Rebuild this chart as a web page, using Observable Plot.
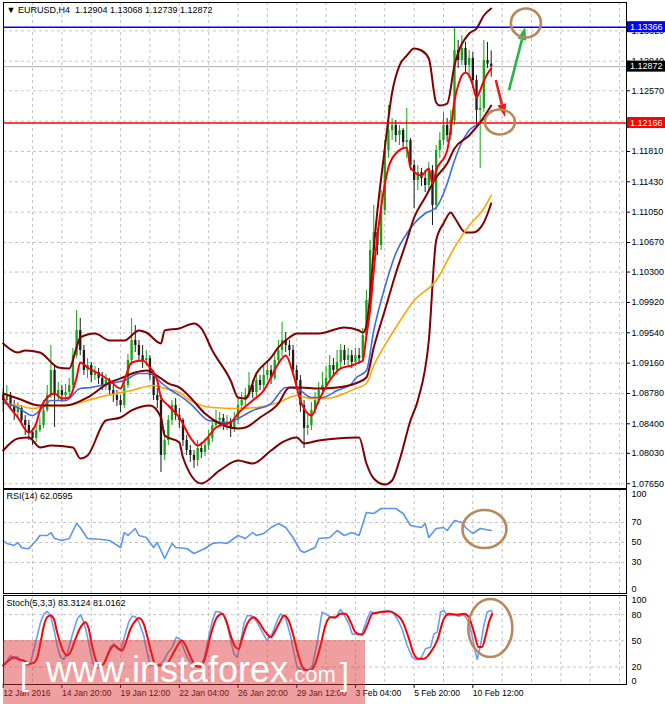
<!DOCTYPE html>
<html>
<head>
<meta charset="utf-8">
<script src="https://cdn.jsdelivr.net/npm/d3@7"></script>
<script src="https://cdn.jsdelivr.net/npm/@observablehq/plot@0.6"></script>
<style>
  html,body{margin:0;padding:0;background:#fff;}
  #chart{position:relative;width:665px;height:704px;overflow:hidden;background:#fff;}
  #chart > svg{position:absolute;left:0;display:block;}
</style>
</head>
<body>
<div id="chart"></div>
<script>
// ---------------- DATA ----------------
const symbolHeader = "▼ EURUSD,H4  1.12904 1.13068 1.12739 1.12872";
const rsiHeader = "RSI(14) 62.0595";
const stochHeader = "Stoch(5,3,3) 83.3124 81.0162";

const firstOpen = 1.08754;
const closes = [
 1.08692,1.08754,1.08629,1.08542,1.08592,1.08442,1.08379,1.08291,1.08216,1.08316,
 1.08379,1.08567,1.08754,1.09068,1.08754,1.08817,1.08754,1.08792,1.08880,1.09254,
 1.09568,1.09318,1.09068,1.09130,1.09005,1.09043,1.08968,1.08880,1.08942,1.08817,
 1.08754,1.08692,1.08629,1.08880,1.09193,1.09443,1.09381,1.09254,1.09193,1.09216,
 1.09005,1.08754,1.08692,1.08004,1.08191,1.08442,1.08629,1.08504,1.08442,1.08191,
 1.08066,1.08004,1.07941,1.08091,1.08041,1.08129,1.08216,1.08379,1.08442,1.08467,
 1.08379,1.08417,1.08342,1.08442,1.08629,1.08692,1.08754,1.08880,1.08792,1.08942,
 1.08880,1.09005,1.09068,1.08968,1.09193,1.09318,1.09443,1.09381,1.09318,1.09068,
 1.08942,1.08629,1.08342,1.08379,1.08567,1.08692,1.08817,1.08880,1.08968,1.09130,
 1.09068,1.09168,1.09318,1.09193,1.09254,1.09168,1.09254,1.09216,1.09506,1.09944,
 1.10570,1.10795,1.10633,1.11071,1.11822,1.12072,1.12135,1.12010,1.12072,1.11922,
 1.11947,1.11634,1.11446,1.11547,1.11471,1.11384,1.11572,1.11133,1.11822,1.11947,
 1.12135,1.12010,1.12198,1.13074,1.12949,1.13099,1.12886,1.12974,1.12698,1.12323,
 1.12348,1.12949,1.12904,1.12872];
const highs = [
 1.08842,1.08880,1.08792,1.08692,1.08667,1.08629,1.08504,1.08442,1.08342,1.08379,
 1.08467,1.08692,1.08880,1.09381,1.09130,1.08917,1.08880,1.08892,1.08968,1.09343,
 1.09819,1.09719,1.09381,1.09216,1.09168,1.09118,1.09093,1.09043,1.09018,1.08968,
 1.08880,1.08817,1.08754,1.08942,1.09268,1.09719,1.09631,1.09443,1.09381,1.09318,
 1.09254,1.09068,1.08842,1.08754,1.08316,1.08504,1.08692,1.08717,1.08592,1.08467,
 1.08254,1.08129,1.08066,1.08191,1.08166,1.08216,1.08316,1.08467,1.08567,1.08542,
 1.08517,1.08504,1.08467,1.08542,1.08717,1.08792,1.08842,1.09043,1.08942,1.09043,
 1.09005,1.09130,1.09193,1.09130,1.09293,1.09443,1.09669,1.09543,1.09443,1.09381,
 1.09130,1.09005,1.08692,1.08504,1.08667,1.08792,1.08917,1.09043,1.09118,1.09254,
 1.09216,1.09318,1.09393,1.09381,1.09343,1.09318,1.09343,1.09343,1.09594,1.10069,
 1.10695,1.11133,1.10846,1.11321,1.11947,1.12385,1.12223,1.12198,1.12135,1.12097,
 1.12348,1.11972,1.11697,1.11634,1.11597,1.11572,1.11672,1.11634,1.11885,1.12047,
 1.12298,1.12223,1.12323,1.13362,1.13199,1.13262,1.13174,1.13074,1.13049,1.12761,
 1.12511,1.13199,1.13174,1.13068];
const lows = [
 1.08542,1.08629,1.08567,1.08442,1.08467,1.08379,1.08254,1.08191,1.08129,1.08166,
 1.08291,1.08342,1.08542,1.08717,1.08354,1.08692,1.08667,1.08692,1.08742,1.08842,
 1.09216,1.09254,1.09005,1.08968,1.08917,1.08942,1.08892,1.08817,1.08817,1.08754,
 1.08667,1.08617,1.08542,1.08592,1.08842,1.09130,1.09293,1.09168,1.09093,1.09118,
 1.08942,1.08692,1.08592,1.07791,1.07941,1.08129,1.08379,1.08442,1.08342,1.08116,
 1.08004,1.07916,1.07841,1.07866,1.07966,1.07991,1.08066,1.08166,1.08342,1.08367,
 1.08316,1.08316,1.08229,1.08291,1.08392,1.08567,1.08629,1.08717,1.08717,1.08742,
 1.08817,1.08817,1.08942,1.08892,1.08942,1.09130,1.09241,1.09293,1.09241,1.09005,
 1.08842,1.08542,1.08091,1.08254,1.08316,1.08517,1.08642,1.08754,1.08817,1.08917,
 1.08993,1.09005,1.09093,1.09130,1.09118,1.09093,1.09118,1.09143,1.09168,1.09443,
 1.09881,1.10470,1.10507,1.10570,1.11008,1.11722,1.11947,1.11922,1.11885,1.11847,
 1.11722,1.11572,1.11096,1.11321,1.11371,1.11296,1.11321,1.10883,1.11071,1.11722,
 1.11885,1.11922,1.11947,1.12135,1.12849,1.12886,1.12799,1.12723,1.12598,1.12135,
 1.11597,1.12298,1.12849,1.12739];

// indicator lines: [bar index, value]
const bbUpper = [[0,1.09406],[4,1.09293],[6,1.09318],[10,1.09293],[15,1.09105],[18,1.09093],[20,1.09356],[21,1.09481],[25,1.09531],[29,1.09443],[33,1.09443],[37,1.09568],[39,1.09543],[43,1.09406],[44,1.09568],[48,1.09594],[52,1.09656],[54,1.09594],[57,1.09318],[62,1.08942],[64,1.08730],[66,1.08717],[69,1.09030],[73,1.09230],[75,1.09356],[78,1.09481],[80,1.09531],[86,1.09531],[93,1.09606],[97,1.09568],[98,1.09543],[99,1.09631],[100,1.10007],[101,1.10595],[104,1.11847],[106,1.12548],[108,1.12886],[110,1.13011],[112,1.13099],[114,1.13074],[116,1.12974],[118,1.12423],[119,1.12385],[121,1.12410],[123,1.12886],[127,1.13287],[129,1.13349],[131,1.13512],[133,1.13600]];
const bbMiddle = [[0,1.08780],[4,1.08717],[10,1.08629],[17,1.08629],[23,1.08730],[29,1.08917],[32,1.08968],[36,1.09043],[39,1.09068],[43,1.08968],[45,1.08905],[48,1.08855],[51,1.08730],[55,1.08529],[59,1.08404],[64,1.08342],[66,1.08354],[70,1.08479],[75,1.08654],[78,1.08855],[81,1.08855],[86,1.08842],[91,1.08855],[96,1.08905],[99,1.08980],[101,1.09356],[104,1.09819],[107,1.10282],[110,1.10695],[112,1.10983],[115,1.11234],[118,1.11484],[121,1.11659],[123,1.11847],[127,1.12010],[130,1.12173],[133,1.12385]];
const bbLower = [[0,1.08066],[4,1.08216],[7,1.08229],[10,1.08104],[13,1.08129],[19,1.08104],[21,1.07966],[23,1.08004],[28,1.08442],[32,1.08479],[35,1.08567],[40,1.08629],[43,1.08479],[44,1.08254],[48,1.08166],[49,1.07978],[54,1.07653],[59,1.07816],[64,1.07941],[68,1.07903],[73,1.08066],[76,1.08166],[80,1.08229],[82,1.08154],[86,1.08191],[91,1.08216],[97,1.08229],[99,1.07903],[101,1.07715],[104,1.07640],[106,1.07690],[108,1.07941],[111,1.08442],[113,1.08692],[116,1.09443],[118,1.10695],[120,1.10908],[122,1.11046],[123,1.10983],[126,1.10795],[128,1.10795],[131,1.10921],[133,1.11158]];
const maFast = [[0,1.08730],[1,1.08654],[4,1.08479],[7,1.08291],[9,1.08404],[10,1.08567],[12,1.08730],[14,1.08780],[16,1.08717],[18,1.08730],[20,1.08980],[21,1.09168],[23,1.09105],[26,1.09030],[29,1.08942],[32,1.08842],[33,1.08942],[35,1.09168],[38,1.09193],[40,1.09105],[42,1.08942],[43,1.08730],[45,1.08629],[48,1.08479],[51,1.08229],[53,1.08129],[55,1.08191],[58,1.08354],[61,1.08404],[62,1.08417],[64,1.08529],[68,1.08692],[71,1.08817],[73,1.08980],[75,1.09155],[77,1.09255],[79,1.09030],[81,1.08692],[83,1.08529],[84,1.08504],[86,1.08692],[89,1.08942],[92,1.09093],[95,1.09130],[97,1.09168],[98,1.09193],[99,1.09506],[100,1.09819],[101,1.10320],[103,1.11108],[105,1.11609],[107,1.11784],[110,1.11860],[111,1.11609],[114,1.11509],[116,1.11597],[117,1.11409],[118,1.11572],[121,1.11822],[122,1.12097],[123,1.12448],[124,1.12636],[125,1.12761],[126,1.12799],[127,1.12761],[128,1.12636],[129,1.12486],[130,1.12573],[131,1.12698],[133,1.12849]];
const maMid = [[0,1.08667],[4,1.08604],[8,1.08504],[10,1.08567],[13,1.08692],[17,1.08692],[21,1.08842],[24,1.08855],[29,1.08905],[33,1.08942],[37,1.09030],[40,1.09030],[43,1.08917],[45,1.08842],[48,1.08755],[51,1.08654],[56,1.08442],[61,1.08417],[64,1.08467],[68,1.08567],[73,1.08654],[77,1.08855],[80,1.08842],[84,1.08730],[87,1.08730],[91,1.08817],[95,1.08905],[96,1.08968],[99,1.09068],[101,1.09568],[104,1.10107],[107,1.10532],[110,1.10783],[112,1.10908],[115,1.11033],[118,1.11108],[120,1.11284],[121,1.11409],[123,1.11697],[124,1.11822],[127,1.12072],[130,1.12173],[133,1.12323]];
const maSlow = [[0,1.08654],[4,1.08629],[8,1.08592],[13,1.08629],[17,1.08629],[23,1.08692],[26,1.08730],[31,1.08780],[35,1.08817],[41,1.08880],[44,1.08842],[48,1.08792],[51,1.08692],[57,1.08604],[64,1.08592],[69,1.08604],[75,1.08667],[80,1.08755],[84,1.08717],[88,1.08717],[93,1.08780],[96,1.08842],[99,1.08905],[101,1.09130],[104,1.09381],[107,1.09606],[112,1.09944],[118,1.10194],[123,1.10608],[127,1.10883],[131,1.11096],[133,1.11259]];

const rsiSeries = [[0,52],[1,49],[3,47],[4,50],[5,45],[6,44],[7,44],[9,52],[10,57],[12,57],[13,60],[14,54],[16,52],[18,54],[20,69],[21,65],[23,54],[27,53],[29,52],[32,45],[33,60],[34,57],[36,64],[37,57],[39,55],[41,45],[42,50],[44,34],[46,49],[47,45],[50,44],[52,39],[55,44],[57,49],[59,50],[61,49],[64,57],[66,54],[68,60],[69,57],[71,59],[73,65],[75,69],[77,65],[79,55],[81,42],[82,40],[85,45],[86,54],[89,55],[91,62],[93,57],[95,60],[97,57],[99,80],[101,79],[103,84],[107,84],[109,79],[111,67],[114,65],[115,69],[116,55],[118,64],[120,65],[121,62],[123,72],[125,70],[126,65],[128,59],[130,64],[133,62.06]];

const stochK = [[0,21.8],[1.1,27.5],[2,33.2],[2.9,29.4],[3.8,32],[4.7,27.5],[5.6,27.5],[6.5,21.8],[7.4,23.7],[8.3,38.9],[9.3,56.1],[10.2,71.4],[11.1,80.9],[12,83.6],[12.9,79.0],[13.8,63.8],[14.7,44.7],[15.6,31.3],[16.5,28.6],[17.4,35.1],[18.8,56.1],[20.2,75.2],[21.1,79.8],[22,71.4],[22.9,56.1],[23.8,37.0],[24.7,21.8],[25.6,18.7],[26.5,19.9],[27.4,23.7],[28.3,33.2],[29.2,42.8],[30.2,46.6],[31.1,40.9],[32,38.9],[32.9,52.3],[34.2,71.4],[35.2,78.3],[36.1,77.1],[37,71.4],[38.3,56.1],[39.2,37.0],[40.1,21.8],[41.5,21.8],[42.9,23.7],[43.8,27.5],[44.7,35.1],[46.1,42.8],[47.2,54.2],[48.3,51.5],[49.2,40.9],[50.1,31.3],[51.5,23.7],[52.9,19.9],[53.8,21.8],[54.7,29.4],[55.6,46.6],[56.9,71.4],[57.9,83.6],[59.2,82.9],[60.1,79.0],[61.1,67.6],[62,50.4],[62.9,35.1],[63.8,31.3],[64.7,48.5],[65.6,69.5],[66.5,79.0],[67.9,78.3],[69.2,71.4],[70.6,59.9],[71.9,50.4],[73.3,58.0],[74.7,73.3],[75.6,80.9],[76.9,77.1],[78.3,56.1],[79.2,37.0],[80.1,19.9],[81.5,16.0],[82.8,16.0],[84.2,19.9],[85.6,48.5],[86.9,82.9],[88.3,79.8],[89.2,77.1],[90.6,76.0],[91.9,85.9],[92.8,80.9],[94.2,69.5],[95.1,58.0],[96.5,56.9],[97.8,58.0],[99.2,75.2],[100.1,83.6],[101.5,80.9],[102.8,82.9],[104.7,84.8],[106,83.6],[107.4,75.2],[108.7,63.8],[110.1,44.7],[111.5,31.3],[112.4,28.6],[113.7,28.6],[115.1,40.9],[116.5,42.8],[117.4,58.0],[118.3,59.9],[119.2,82.9],[120.1,84.8],[121,79.0],[122.8,79.8],[124.2,78.3],[125.6,79.8],[126.9,71.4],[127.8,56.1],[128.7,37.0],[129.2,28.6],[130.1,44.7],[131,67.6],[131.9,82.9],[132.8,84.8],[133.3,83.3]];
const stochD = [[0,21.8],[1.5,27.5],[2.9,31.3],[4.3,28.6],[5.6,27.5],[7,23.7],[8.3,24.8],[9.3,31.3],[10.2,48.5],[11.1,67.6],[12,77.1],[12.9,79.0],[13.8,75.2],[14.7,59.9],[16.1,40.9],[17.4,33.2],[18.3,37.0],[19.7,52.3],[21.1,65.7],[22.4,71.4],[23.3,63.8],[24.2,44.7],[25.6,24.4],[26.5,21.8],[27.4,23.7],[28.8,37.0],[30.2,44.7],[31.5,40.9],[32.4,38.9],[33.3,46.6],[34.7,63.8],[36.1,73.3],[37,76.0],[38.3,69.5],[39.2,56.1],[40.6,33.2],[41.5,21.8],[42.9,21.8],[44.7,24.4],[46.5,37.0],[47.8,46.6],[48.7,50.4],[49.7,44.7],[51.1,31.3],[52.4,21.8],[53.8,19.9],[55.1,31.3],[56.5,56.1],[58.3,77.1],[59.7,80.9],[60.6,75.2],[62,56.1],[63.3,42.8],[64.2,40.9],[65.1,52.3],[66.5,69.5],[68.3,77.1],[69.7,71.4],[71.5,59.9],[72.9,54.2],[74.2,61.9],[75.6,73.3],[76.5,79.0],[77.8,73.3],[79.2,54.2],[80.6,31.3],[81.9,17.9],[83.7,16.0],[85,23.7],[86.5,44.7],[87.8,67.6],[89.2,77.1],[90.6,77.1],[91.9,80.9],[93.3,80.9],[94.7,71.4],[96,59.9],[97.8,56.9],[99.2,67.6],[100.6,80.9],[102.8,82.9],[105.1,83.6],[106.9,80.9],[108.7,73.3],[110.6,52.3],[111.9,35.1],[113.3,29.4],[114.6,29.4],[116.5,37.0],[118.3,50.4],[120.1,75.2],[121.5,80.9],[123.7,79.8],[125.6,80.9],[126.9,77.1],[128.3,59.9],[129.6,42.8],[130.5,42.8],[131.5,56.1],[132.4,71.4],[133.3,81.0]];

// axes / levels
const priceTicks = [1.07650,1.08030,1.08400,1.08780,1.09160,1.09540,1.09920,1.10300,1.10670,1.11050,1.11430,1.11810,1.12190,1.12570,1.12940,1.13320];
const hiddenTick = 1.12190; // fully covered by the support tag in the reference
const resistance = 1.13366;
const support = 1.12166;
const bidPrice = 1.12872;
const rsiTicks = [100, 70, 50, 30, 0];
const stochTicks = [100, 80, 50, 20, 0];
const timeTicks = [0, 16, 32, 48, 64, 80, 96, 112, 128];
const timeLabels = ["12 Jan 2016","14 Jan 20:00","19 Jan 12:00","22 Jan 04:00","26 Jan 20:00","29 Jan 12:00","3 Feb 04:00","5 Feb 20:00","10 Feb 12:00"];
const gridBars = [8,16,24,32,40,48,56,64,72,80,88,96,104,112,120,128,136,144,152,160,168];

// annotations (bar, value)
const mainCircles = [[142.6, 1.13412], [135.5, 1.12173]];
const upArrow = {from: [138.0, 1.12573], to: [142.4, 1.13362]};
const downArrow = {from: [134.4, 1.12698], to: [136.9, 1.12235]};
const rsiCircle = [131.3, 63];
const stochCircle = [132.9, 64.1];

// ---------------- DRAWING ----------------
const FONT = '"Liberation Sans", Arial, Helvetica, sans-serif';
const X_DOMAIN = [0.082, 169.88];
const GRID = {stroke: "#c4c4c4", strokeDasharray: "3,3", strokeWidth: 1};
const BULL = "#14a314", BEAR = "#1c1c1c";
const MAROON = "#800000", BROWN = "#b9875c";

const candles = closes.map((c, i) => {
  const open = i === 0 ? firstOpen : closes[i - 1];
  return {i, open, close: c, high: Math.max(highs[i], open, c), low: Math.min(lows[i], open, c)};
});
const bull = candles.filter(d => d.close >= d.open);
const bear = candles.filter(d => d.close < d.open);

const common = {
  width: 665, marginLeft: 3, marginRight: 39,
  x: {domain: X_DOMAIN, axis: null},
  style: {fontFamily: FONT, fontSize: "9px", background: "transparent", color: "#000", overflow: "visible"}
};
const P = d => d[0], V = d => d[1];

const main = Plot.plot({
  ...common, height: 489, marginTop: 2, marginBottom: 1,
  y: {domain: [1.07590, 1.13675], axis: "right", ticks: priceTicks,
      tickFormat: d => (d === hiddenTick ? "" : d.toFixed(5)), tickSize: 3, tickPadding: 2, label: null},
  marks: [
    Plot.ruleY(priceTicks, {y: d => d, ...GRID}),
    Plot.ruleX(gridBars, {x: d => d, ...GRID}),
    Plot.ruleY([bidPrice], {y: d => d, stroke: "#b0b0b0", strokeWidth: 1}),
    Plot.ruleX(bull, {x: "i", y1: "low", y2: "high", stroke: BULL, strokeWidth: 1}),
    Plot.ruleX(bear, {x: "i", y1: "low", y2: "high", stroke: BEAR, strokeWidth: 1}),
    Plot.ruleX(bull, {x: "i", y1: "open", y2: "close", stroke: BULL, strokeWidth: 2.3}),
    Plot.ruleX(bear, {x: "i", y1: "open", y2: "close", stroke: BEAR, strokeWidth: 2.3}),
    Plot.line(bbUpper, {x: P, y: V, stroke: MAROON, strokeWidth: 2, curve: "monotone-x"}),
    Plot.line(bbLower, {x: P, y: V, stroke: MAROON, strokeWidth: 2, curve: "monotone-x"}),
    Plot.line(maSlow, {x: P, y: V, stroke: "#ffa500", strokeWidth: 1.6, curve: "monotone-x"}),
    Plot.line(maMid, {x: P, y: V, stroke: "#4169e1", strokeWidth: 1.6, curve: "monotone-x"}),
    Plot.line(bbMiddle, {x: P, y: V, stroke: MAROON, strokeWidth: 2, curve: "monotone-x"}),
    Plot.line(maFast, {x: P, y: V, stroke: "#ff0000", strokeWidth: 2, curve: "monotone-x"}),
    Plot.ruleY([resistance], {y: d => d, stroke: "#0000ff", strokeWidth: 1.6}),
    Plot.ruleY([support], {y: d => d, stroke: "#ff0000", strokeWidth: 1.6}),
    Plot.text([symbolHeader], {text: d => d, frameAnchor: "top-left", dx: 3, dy: 4, fill: "#000"}),
    Plot.frame({stroke: "#000", strokeWidth: 1})
  ]
});

const rsi = Plot.plot({
  ...common, height: 106, marginTop: 1, marginBottom: 1,
  y: {domain: [-1, 103], axis: "right", ticks: rsiTicks.slice(1, -1), tickSize: 0, tickPadding: 5, label: null},
  marks: [
    Plot.ruleY(rsiTicks.slice(1, -1), {y: d => d, ...GRID}),
    Plot.ruleX(gridBars, {x: d => d, ...GRID}),
    Plot.line(rsiSeries, {x: P, y: V, stroke: "#5a95ee", strokeWidth: 1.6}),
    Plot.text([rsiHeader], {text: d => d, frameAnchor: "top-left", dx: 3, dy: 3.5}),
    Plot.text([rsiTicks[0]], {text: d => String(d), frameAnchor: "top-right", dx: 5, dy: 1.5, textAnchor: "start"}),
    Plot.text([rsiTicks[rsiTicks.length - 1]], {text: d => String(d), frameAnchor: "bottom-right", dx: 5, dy: -1.5, textAnchor: "start"}),
    Plot.frame({stroke: "#000", strokeWidth: 1})
  ]
});

const stoch = Plot.plot({
  ...common, height: 111, marginTop: 2, marginBottom: 20,
  y: {domain: [0, 101.9], axis: "right", ticks: stochTicks.slice(1, -1), tickSize: 0, tickPadding: 5, label: null},
  marks: [
    Plot.ruleY(stochTicks.slice(1, -1), {y: d => d, ...GRID}),
    Plot.ruleX(gridBars, {x: d => d, ...GRID}),
    Plot.line(stochK, {x: P, y: V, stroke: "#6a9ef0", strokeWidth: 1.6}),
    Plot.line(stochD, {x: P, y: V, stroke: "#ff0000", strokeWidth: 2, curve: "monotone-x"}),
    Plot.text([stochHeader], {text: d => d, frameAnchor: "top-left", dx: 3, dy: 4.5}),
    Plot.text([stochTicks[0]], {text: d => String(d), frameAnchor: "top-right", dx: 5, dy: 1.5, textAnchor: "start"}),
    Plot.text([stochTicks[stochTicks.length - 1]], {text: d => String(d), frameAnchor: "bottom-right", dx: 5, dy: -0.5, textAnchor: "start"}),
    Plot.ruleX(timeTicks, {x: d => d, y1: 0, y2: -4.5, stroke: "#000"}),
    Plot.text(timeTicks, {x: d => d, text: (d, i) => timeLabels[i], frameAnchor: "bottom", lineAnchor: "middle", dy: 9, textAnchor: "start", fontSize: 8.6}),
    Plot.frame({stroke: "#000", strokeWidth: 1})
  ]
});

const chart = document.getElementById("chart");
[[main, 0], [rsi, 488], [stoch, 593]].forEach(([svg, top]) => {
  svg.style.top = top + "px";
  chart.appendChild(svg);
});

// ---------- annotations through the plots' own scales ----------
function ellipse(plot, pt, rx, ry) {
  const sx = plot.scale("x"), sy = plot.scale("y");
  d3.select(plot).append("ellipse")
    .attr("cx", sx.apply(pt[0])).attr("cy", sy.apply(pt[1]))
    .attr("rx", rx).attr("ry", ry)
    .attr("fill", "none").attr("stroke", BROWN).attr("stroke-width", 2.6);
}
function arrow(plot, a, color) {
  const sx = plot.scale("x"), sy = plot.scale("y");
  const x1 = sx.apply(a.from[0]), y1 = sy.apply(a.from[1]);
  const x2 = sx.apply(a.to[0]), y2 = sy.apply(a.to[1]);
  const ang = Math.atan2(y2 - y1, x2 - x1), L = 13, H = 4.5;
  const bx = x2 - L * Math.cos(ang), by = y2 - L * Math.sin(ang);
  const g = d3.select(plot).append("g");
  g.append("line").attr("x1", x1).attr("y1", y1).attr("x2", bx).attr("y2", by)
    .attr("stroke", color).attr("stroke-width", 2.6);
  g.append("polygon").attr("fill", color).attr("points", [
    [x2, y2],
    [bx - H * Math.sin(ang), by + H * Math.cos(ang)],
    [bx + H * Math.sin(ang), by - H * Math.cos(ang)]
  ].map(p => p.join(",")).join(" "));
}
function tag(plot, price, bg) {
  const y = plot.scale("y").apply(price);
  const g = d3.select(plot).append("g");
  g.append("rect").attr("x", 627).attr("y", y - 5.5).attr("width", 38).attr("height", 11).attr("fill", bg);
  g.append("text").attr("x", 630).attr("y", y).attr("dy", "0.35em").attr("fill", "#fff")
    .attr("text-anchor", "start")
    .attr("font-family", FONT).attr("font-size", 9).text(price.toFixed(5));
}

tag(main, resistance, "#0000ff");
tag(main, bidPrice, "#000000");
tag(main, support, "#ff0000");
arrow(main, upArrow, "#27b447");
arrow(main, downArrow, "#f01c1c");
ellipse(main, mainCircles[0], 15, 14.5);
ellipse(main, mainCircles[1], 15, 12.5);
ellipse(rsi, rsiCircle, 22, 19);
ellipse(stoch, stochCircle, 22, 29);

// ---------- site watermark ----------
const wm = d3.select(chart).append("svg").attr("width", 665).attr("height", 704)
  .style("top", "0px").style("pointer-events", "none");
wm.append("rect").attr("x", 3).attr("y", 640).attr("width", 362).attr("height", 64)
  .attr("fill", "#dd3333").attr("fill-opacity", 0.47);
const wt = wm.append("g").attr("fill", "#fff").attr("font-family", FONT).attr("text-anchor", "start");
wt.append("text").attr("x", 20).attr("y", 685).attr("font-size", 32).text("[");
const wtMain = wt.append("text").attr("x", 46).attr("y", 682).attr("font-size", 36);
wtMain.append("tspan").text("www.instaforex");
wtMain.append("tspan").attr("font-size", 22).text(".com");
wt.append("text").attr("x", 340).attr("y", 685).attr("font-size", 32).text("]");
</script>
</body>
</html>
